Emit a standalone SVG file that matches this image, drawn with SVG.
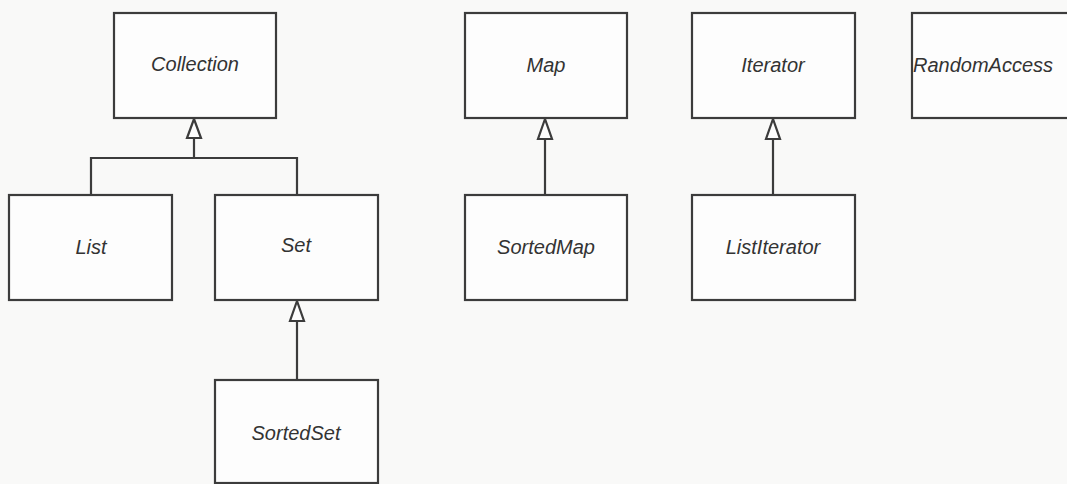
<svg xmlns="http://www.w3.org/2000/svg" width="1067" height="484" viewBox="0 0 1067 484">
<defs>
<style>
.box{fill:#fdfdfd;stroke:#3c3c3c;stroke-width:2.2}
.lbl{font-family:"Liberation Sans",Arial,sans-serif;font-style:italic;font-size:20px;fill:#333;text-anchor:middle}
.ln{fill:none;stroke:#3c3c3c;stroke-width:2.2}
.tri{fill:#fdfdfd;stroke:#3c3c3c;stroke-width:2.2;stroke-linejoin:miter}
</style>
</defs>
<rect x="0" y="0" width="1067" height="484" fill="#f9f9f8"/>
<g id="connectors">
<path class="ln" d="M194 138 V158 M91 195 V158 H297 V195"/>
<polygon class="tri" points="194,119 187,138 201,138"/>
<path class="ln" d="M297 321 V380"/>
<polygon class="tri" points="297,301 290,321 304,321"/>
<path class="ln" d="M545 139 V195"/>
<polygon class="tri" points="545,119 538,139 552,139"/>
<path class="ln" d="M773 139 V195"/>
<polygon class="tri" points="773,119 766,139 780,139"/>
</g>
<g id="collection"><rect class="box" x="114" y="13" width="162" height="105"/><text class="lbl" x="195" y="71">Collection</text></g>
<g id="map"><rect class="box" x="465" y="13" width="162" height="105"/><text class="lbl" x="546" y="72">Map</text></g>
<g id="iterator"><rect class="box" x="692" y="13" width="163" height="105"/><text class="lbl" x="773" y="72">Iterator</text></g>
<g id="randomaccess"><rect class="box" x="912" y="13" width="170" height="105"/><text class="lbl" x="913" y="72" style="text-anchor:start">RandomAccess</text></g>
<g id="list"><rect class="box" x="9" y="195" width="163" height="105"/><text class="lbl" x="91" y="254">List</text></g>
<g id="set"><rect class="box" x="215" y="195" width="163" height="105"/><text class="lbl" x="296" y="252">Set</text></g>
<g id="sortedmap"><rect class="box" x="465" y="195" width="162" height="105"/><text class="lbl" x="546" y="254">SortedMap</text></g>
<g id="listiterator"><rect class="box" x="692" y="195" width="163" height="105"/><text class="lbl" x="773" y="254">ListIterator</text></g>
<g id="sortedset"><rect class="box" x="215" y="380" width="163" height="103"/><text class="lbl" x="296" y="440">SortedSet</text></g>
</svg>
